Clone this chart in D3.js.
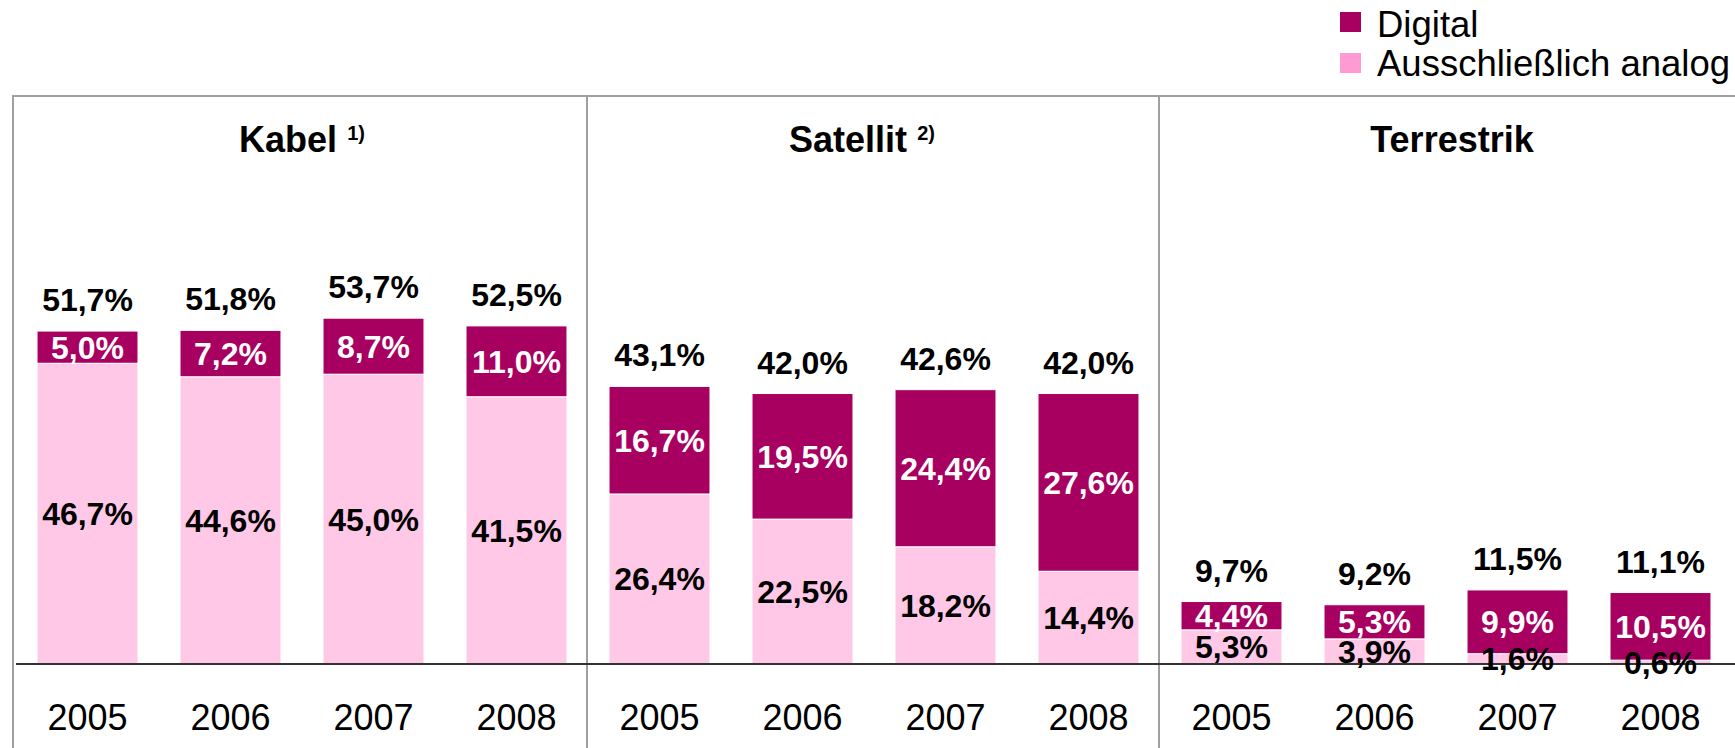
<!DOCTYPE html>
<html>
<head>
<meta charset="utf-8">
<script src="https://cdn.jsdelivr.net/npm/d3@7"></script>
<style>
  html, body { margin: 0; padding: 0; background: #fff; overflow: hidden; }
  svg { display: block; font-family: "Liberation Sans", Arial, sans-serif; }
</style>
</head>
<body>
<svg id="chart" width="1735" height="748"></svg>
<script>
// ---- Data ----
const groups = ["Kabel", "Satellit", "Terrestrik"];
const groupNotes = ["1)", "2)", ""];
const years = ["2005", "2006", "2007", "2008"];

const kabelDigital = [5.0, 7.2, 8.7, 11.0];
const kabelAnalog = [46.7, 44.6, 45.0, 41.5];
const kabelTotal = [51.7, 51.8, 53.7, 52.5];

const satellitDigital = [16.7, 19.5, 24.4, 27.6];
const satellitAnalog = [26.4, 22.5, 18.2, 14.4];
const satellitTotal = [43.1, 42.0, 42.6, 42.0];

const terrestrikDigital = [4.4, 5.3, 9.9, 10.5];
const terrestrikAnalog = [5.3, 3.9, 1.6, 0.6];
const terrestrikTotal = [9.7, 9.2, 11.5, 11.1];

const seriesNames = ["Digital", "Ausschließlich analog"];

// ---- Build rows ----
const digitalByGroup = [kabelDigital, satellitDigital, terrestrikDigital];
const analogByGroup = [kabelAnalog, satellitAnalog, terrestrikAnalog];
const totalByGroup = [kabelTotal, satellitTotal, terrestrikTotal];
const rows = [];
groups.forEach((g, gi) => {
  years.forEach((yr, yi) => {
    rows.push({
      key: g + "-" + yr, group: g, gi, year: yr,
      digital: digitalByGroup[gi][yi],
      analog: analogByGroup[gi][yi],
      total: totalByGroup[gi][yi]
    });
  });
});

const colDigital = "#A80060";
const colAnalog = "#FFC8E6";
const colAnalogLegend = "#FF9BD2";
const fmt = v => d3.format(".1f")(v).replace(".", ",") + "%";

const svg = d3.select("#chart");
const baseY = 664;

const x = d3.scaleBand()
  .domain(rows.map(d => d.key))
  .range([16, 1732])
  .paddingInner(0.294)
  .paddingOuter(0.147);

const y = d3.scaleLinear().domain([0, 60]).range([baseY, baseY - 60 * 6.44]);

const step = x.step();
const groupStart = gi => x(rows[gi * 4].key) - step * x.paddingInner() / 2;
const groupEnd = gi => x(rows[gi * 4 + 3].key) + x.bandwidth() + step * x.paddingInner() / 2;

// ---- Frame ----
const frameTop = 96;
const frame = svg.append("g").attr("stroke", "#A0A0A0").attr("stroke-width", 2);
frame.append("line").attr("x1", 12).attr("x2", 1735).attr("y1", frameTop).attr("y2", frameTop);
frame.append("line").attr("x1", 13).attr("x2", 13).attr("y1", frameTop - 1).attr("y2", 748);
[0, 1].forEach(gi => {
  const xx = (groupEnd(gi) + groupStart(gi + 1)) / 2 - 1;
  frame.append("line").attr("x1", xx).attr("x2", xx).attr("y1", frameTop).attr("y2", 748);
});

// ---- Group titles ----
const titleShift = [0, -12, 6];
groups.forEach((g, gi) => {
  const cx = (groupStart(gi) + groupEnd(gi)) / 2 + titleShift[gi];
  const t = svg.append("text")
    .attr("x", cx).attr("y", 152)
    .attr("text-anchor", "middle")
    .attr("font-weight", "bold")
    .attr("font-size", 36)
    .attr("fill", "#000");
  t.append("tspan").text(g);
  if (groupNotes[gi]) {
    t.append("tspan").text(" ");
    t.append("tspan").text(groupNotes[gi])
      .attr("font-size", 20).attr("dy", -12);
  }
});

// ---- Bars ----
const bars = svg.append("g");
bars.selectAll("rect.analog").data(rows).join("rect")
  .attr("class", "analog")
  .attr("x", d => x(d.key))
  .attr("width", x.bandwidth())
  .attr("y", d => y(d.analog))
  .attr("height", d => y(0) - y(d.analog))
  .attr("fill", colAnalog)
  .attr("stroke", "#fff").attr("stroke-width", 1);

bars.selectAll("rect.digital").data(rows).join("rect")
  .attr("class", "digital")
  .attr("x", d => x(d.key))
  .attr("width", x.bandwidth())
  .attr("y", d => y(d.analog + d.digital))
  .attr("height", d => y(d.analog) - y(d.analog + d.digital))
  .attr("fill", colDigital)
  .attr("stroke", "#fff").attr("stroke-width", 1);

// ---- Axis baseline ----
svg.append("line")
  .attr("x1", 16).attr("x2", 1735)
  .attr("y1", baseY).attr("y2", baseY)
  .attr("stroke", "#333").attr("stroke-width", 2);

// ---- Labels ----
const lab = svg.append("g")
  .attr("font-weight", "bold").attr("font-size", 32)
  .attr("text-anchor", "middle");

lab.selectAll("text.dig").data(rows).join("text")
  .attr("class", "dig")
  .attr("x", d => x(d.key) + x.bandwidth() / 2)
  .attr("y", d => (y(d.analog) + y(d.analog + d.digital)) / 2 + 11.5)
  .attr("fill", "#fff")
  .text(d => fmt(d.digital));

lab.selectAll("text.ana").data(rows).join("text")
  .attr("class", "ana")
  .attr("x", d => x(d.key) + x.bandwidth() / 2)
  .attr("y", d => (y(0) + y(d.analog)) / 2 + 11.5)
  .attr("fill", "#000")
  .text(d => fmt(d.analog));

lab.selectAll("text.tot").data(rows).join("text")
  .attr("class", "tot")
  .attr("x", d => x(d.key) + x.bandwidth() / 2)
  .attr("y", d => y(d.total) - 20)
  .attr("fill", "#000")
  .text(d => fmt(d.total));

// ---- Year axis labels ----
svg.append("g").selectAll("text").data(rows).join("text")
  .attr("x", d => x(d.key) + x.bandwidth() / 2)
  .attr("y", 730)
  .attr("text-anchor", "middle")
  .attr("font-size", 36)
  .attr("fill", "#000")
  .text(d => d.year);

// ---- Legend ----
const legend = svg.append("g");
const legendColors = [colDigital, colAnalogLegend];
seriesNames.forEach((n, i) => {
  legend.append("rect")
    .attr("x", 1340).attr("y", 12 + i * 41)
    .attr("width", 21).attr("height", 20)
    .attr("fill", legendColors[i]);
  legend.append("text")
    .attr("x", 1377).attr("y", 37 + i * 38.5)
    .attr("font-size", 36.5)
    .attr("fill", "#000")
    .text(n);
});
</script>
</body>
</html>
